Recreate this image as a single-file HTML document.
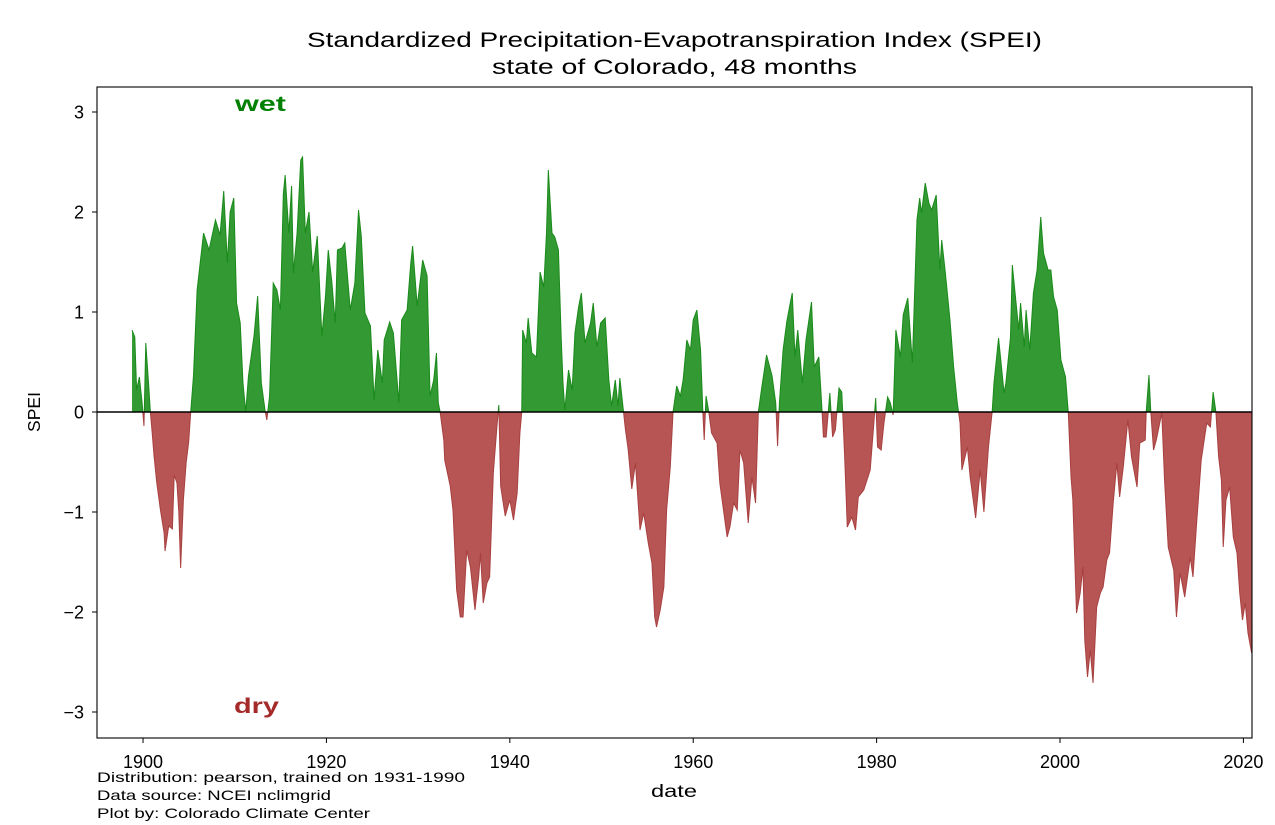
<!DOCTYPE html>
<html><head><meta charset="utf-8"><style>
html,body{margin:0;padding:0;background:#fff;width:1275px;height:825px;overflow:hidden}
svg{display:block;font-family:"Liberation Sans","DejaVu Sans",sans-serif}
</style></head><body>
<svg id="chart" width="1275" height="825">
<defs>
<clipPath id="clipPos"><rect id="cpPos" x="97" y="87" width="1155" height="325"/></clipPath>
<clipPath id="clipNeg"><rect id="cpNeg" x="97" y="412" width="1155" height="326"/></clipPath>
</defs>
<text x="307" y="47" textLength="735" lengthAdjust="spacingAndGlyphs" font-size="21" fill="#000">Standardized Precipitation-Evapotranspiration Index (SPEI)</text>
<text x="492" y="74" textLength="365" lengthAdjust="spacingAndGlyphs" font-size="21" fill="#000">state of Colorado, 48 months</text>
<g id="series"></g>
<g id="axes"></g>
<text x="235" y="111" textLength="51" lengthAdjust="spacingAndGlyphs" font-size="21" font-weight="bold" fill="#008000">wet</text>
<text x="234" y="713" textLength="45" lengthAdjust="spacingAndGlyphs" font-size="21" font-weight="bold" fill="#a52a2a">dry</text>
<text x="651" y="797" textLength="46" lengthAdjust="spacingAndGlyphs" font-size="17.5">date</text>
<text transform="translate(40,412) rotate(-90)" text-anchor="middle" font-size="17.5">SPEI</text>
<text x="97" y="782" textLength="368" lengthAdjust="spacingAndGlyphs" font-size="14">Distribution: pearson, trained on 1931-1990</text>
<text x="97" y="800" textLength="234" lengthAdjust="spacingAndGlyphs" font-size="14">Data source: NCEI nclimgrid</text>
<text x="97" y="818" textLength="273" lengthAdjust="spacingAndGlyphs" font-size="14">Plot by: Colorado Climate Center</text>
</svg>
<script>
const dates = [1898.8,1899.1,1899.3,1899.6,1899.9,1900.1,1900.3,1900.6,1900.8,1901.0,1901.2,1901.5,1901.9,1902.3,1902.4,1902.8,1903.2,1903.4,1903.7,1903.9,1904.1,1904.4,1904.7,1904.98,1905.2,
1905.5,1905.9,1906.6,1907.2,1907.9,1908.4,1908.8,1909.2,1909.5,1909.9,1910.2,1910.6,1910.9,1911.2,1911.5,1912.1,1912.5,1912.9,1913.3,1913.5,1913.8,1914.2,1914.6,1914.98,1915.3,1915.5,1915.9,1916.2,1916.4,1916.8,1917.2,1917.4,1917.7,1918.1,1918.5,1919.0,1919.5,1919.9,1920.2,1920.6,1920.96,1921.2,1921.7,1922.0,1922.6,1923.1,1923.5,1923.8,1924.2,1924.8,1925.2,1925.6,1926.1,1926.3,1926.9,1927.3,1927.9,1928.2,1928.8,1929.2,1929.4,1929.9,1930.5,1930.98,1931.3,1931.7,1932.0,1932.2,1932.4,
1932.8,1932.9,1933.5,1933.8,1934.2,1934.6,1934.9,1935.3,1935.7,1936.2,1936.6,1936.8,1937.1,1937.5,1937.8,1938.2,1938.6,1938.8,1939.0,1939.5,1940.0,1940.4,1940.8,1941.1,1941.3,
1941.4,1941.8,1942.0,1942.4,1942.9,1943.3,1943.7,1944.0,1944.2,1944.6,1944.9,1945.3,1945.6,1945.8,1946.0,1946.4,1946.8,1947.1,1947.5,1947.8,1948.2,1948.8,1949.1,1949.5,1949.9,1950.4,1950.8,1951.1,1951.5,1951.8,1952.0,1952.4,
1952.6,1952.9,1953.3,1953.7,1954.2,1954.6,1955.1,1955.5,1955.8,1956.0,1956.4,1956.8,1957.1,1957.5,1957.8,
1958.2,1958.6,1958.9,1959.3,1959.7,1960.0,1960.4,1960.8,1961.05,1961.2,1961.4,1961.7,
1962.0,1962.6,1962.9,1963.3,1963.7,1964.0,1964.4,1964.8,1965.1,1965.5,1966.0,1966.4,1966.8,1967.1,
1967.5,1968.0,1968.6,1969.0,1969.2,1969.4,1969.8,1970.2,1970.5,1970.8,1971.1,1971.4,1971.9,1972.3,1972.9,1973.2,1973.7,1974.0,1974.2,1974.5,1974.9,1975.2,1975.5,1975.9,1976.2,1976.5,1976.8,1977.3,1977.7,1978.0,1978.6,1979.3,1979.7,1979.9,1980.1,1980.5,1980.8,1981.2,1981.5,1981.8,
1982.1,1982.6,1982.9,1983.4,1983.9,1984.4,1984.7,1984.9,1985.3,1985.7,1986.0,1986.5,1986.9,1987.1,1987.5,1988.0,1988.4,1988.8,1989.1,1989.3,1989.9,1990.2,1990.8,1991.3,1991.7,1992.2,1992.6,
1992.8,1993.3,1993.9,1994.1,1994.6,1994.8,1995.1,1995.5,1995.7,1996.1,1996.3,1996.7,1997.1,1997.5,1997.9,1998.2,1998.7,1999.0,1999.3,1999.7,2000.1,2000.6,2000.9,
2001.2,2001.4,2001.8,2002.2,2002.5,2002.7,2003.0,2003.3,2003.6,2004.0,2004.4,2004.7,2005.1,2005.4,2005.8,2006.2,2006.5,2006.9,2007.4,2007.8,2008.4,2008.7,2009.3,2009.4,2009.7,2009.9,2010.2,2010.5,2011.1,2011.4,2011.8,2012.4,2012.7,2013.1,2013.6,2014.2,2014.5,2014.9,2015.4,2016.0,2016.4,2016.7,2017.0,2017.3,2017.6,2017.8,2018.1,2018.5,2018.9,2019.3,2019.6,2019.9,2020.2,2020.5,2020.9];
const speiValues = [0.82,0.75,0.22,0.35,0.09,-0.14,0.69,0.29,0,-0.21,-0.44,-0.71,-0.98,-1.21,-1.39,-1.14,-1.17,-0.63,-0.71,-1.0,-1.56,-0.88,-0.51,-0.3,0,
0.36,1.22,1.79,1.62,1.92,1.77,2.21,1.49,2.0,2.14,1.09,0.89,0.29,0,0.36,0.76,1.16,0.29,0.02,-0.08,0.16,1.29,1.22,1.02,2.18,2.37,1.79,2.26,1.39,1.79,2.52,2.55,1.79,2.0,1.4,1.76,0.76,1.16,1.62,1.29,0.89,1.62,1.64,1.69,1.02,1.29,2.02,1.76,0.99,0.86,0.12,0.62,0.29,0.72,0.9,0.79,0.09,0.92,1.02,1.49,1.66,1.06,1.52,1.36,0.16,0.32,0.59,0.09,0,
-0.28,-0.48,-0.74,-0.98,-1.78,-2.05,-2.05,-1.38,-1.55,-1.98,-1.65,-1.41,-1.91,-1.71,-1.65,-0.61,-0.14,0.07,-0.74,-1.04,-0.88,-1.08,-0.81,-0.21,0,
0.82,0.69,0.94,0.59,0.55,1.40,1.25,1.79,2.42,1.79,1.75,1.62,0.75,0.29,0.02,0.42,0.22,0.79,1.05,1.19,0.69,0.89,1.09,0.65,0.89,0.94,0.32,0.06,0.32,0.06,0.34,0,
-0.17,-0.37,-0.77,-0.51,-1.18,-1.01,-1.31,-1.51,-2.05,-2.15,-1.98,-1.75,-0.98,-0.55,0,
0.26,0.16,0.32,0.72,0.62,0.92,1.02,0.62,0,-0.28,0.16,0,
-0.21,-0.31,-0.71,-0.98,-1.25,-1.15,-0.91,-0.98,-0.38,-0.51,-1.11,-0.65,-0.91,0,
0.26,0.57,0.36,0.09,-0.34,0.09,0.62,0.9,1.05,1.19,0.55,0.82,0.29,0.72,1.10,0.45,0.55,0.09,-0.25,-0.25,0.19,-0.25,-0.18,0.24,0.20,-0.41,-1.15,-1.05,-1.18,-0.85,-0.78,-0.58,-0.11,0.14,-0.35,-0.38,-0.11,0.15,0.09,-0.03,
0.82,0.55,0.97,1.14,0.49,1.92,2.14,1.99,2.29,2.09,2.02,2.17,1.42,1.72,1.39,0.92,0.45,0.09,-0.11,-0.58,-0.35,-0.65,-1.06,-0.58,-1.0,-0.35,0,
0.29,0.74,0.19,0.29,0.75,1.47,1.19,0.82,1.09,0.65,1.02,0.62,1.19,1.42,1.95,1.59,1.42,1.42,1.15,1.02,0.52,0.35,0,
-0.65,-0.88,-2.01,-1.81,-1.55,-2.28,-2.65,-2.38,-2.71,-1.95,-1.81,-1.75,-1.48,-1.41,-0.91,-0.51,-0.85,-0.55,-0.08,-0.45,-0.75,-0.31,-0.28,0,0.37,0,-0.38,-0.28,-0.01,-0.68,-1.35,-1.58,-2.05,-1.61,-1.85,-1.45,-1.65,-1.11,-0.48,-0.11,-0.15,0.2,0,-0.45,-0.68,-1.35,-0.88,-0.75,-1.25,-1.41,-1.81,-2.08,-1.91,-2.21,-2.41];
const yTicks = [-3,-2,-1,0,1,2,3];
const xTicks = [1900,1920,1940,1960,1980,2000,2020];

const NS='http://www.w3.org/2000/svg';
const L=97,R=1252,T=87,B=738;
const xMin=1894.98, xMax=1900+(R-143)/9.17;
const yMin=-3.26, yMax=3.25;
const xs=v=>L+(v-xMin)/(xMax-xMin)*(R-L);
const ys=v=>T+(yMax-v)/(yMax-yMin)*(B-T);
const y0=ys(0);
document.getElementById('cpPos').setAttribute('height',y0-T);
document.getElementById('cpNeg').setAttribute('y',y0);
document.getElementById('cpNeg').setAttribute('height',B-y0);
function mk(tag,attrs,parent){const e=document.createElementNS(NS,tag);for(const k in attrs)e.setAttribute(k,attrs[k]);parent.appendChild(e);return e;}
const series=document.getElementById('series');
let line='';
dates.forEach((d,i)=>{line+=(i?'L':'M')+xs(d).toFixed(2)+','+ys(speiValues[i]).toFixed(2);});
const area=line+'L'+xs(dates[dates.length-1]).toFixed(2)+','+y0+'L'+xs(dates[0]).toFixed(2)+','+y0+'Z';
const wetArea=mk('path',{d:area,fill:'#339933','clip-path':'url(#clipPos)'},series);


const wetLine=mk('path',{d:line,fill:'none',stroke:'#1a8a1a','stroke-width':1,'clip-path':'url(#clipPos)'},series);


const dryArea=mk('path',{d:area,fill:'#b75555','clip-path':'url(#clipNeg)'},series);


const dryLine=mk('path',{d:line,fill:'none',stroke:'#a84040','stroke-width':1,'clip-path':'url(#clipNeg)'},series);


const zl=mk('line',{x1:L,x2:R,y1:y0,y2:y0,stroke:'#000','stroke-width':1.6},series);



const axes=document.getElementById('axes');
const frame=mk('rect',{x:L,y:T,width:R-L,height:B-T,fill:'none',stroke:'#000','stroke-width':1.1},axes);


yTicks.forEach(v=>{
  const y=ys(v);
  const t=mk('line',{x1:L-5,x2:L,y1:y,y2:y,stroke:'#000','stroke-width':1},axes);
  
  
  const lb=mk('text',{x:L-13,y:y+6.5,'text-anchor':'end','font-size':18},axes);
  lb.textContent=(v<0?'\u2212'+(-v):String(v));
  
  
});
xTicks.forEach(v=>{
  const x=xs(v);
  const t=mk('line',{x1:x,x2:x,y1:B,y2:B+5,stroke:'#000','stroke-width':1},axes);
  
  
  const lb=mk('text',{x:x,y:B+30,'text-anchor':'middle','font-size':18},axes);
  lb.textContent=String(v);
  
  
});
</script>
</body></html>
